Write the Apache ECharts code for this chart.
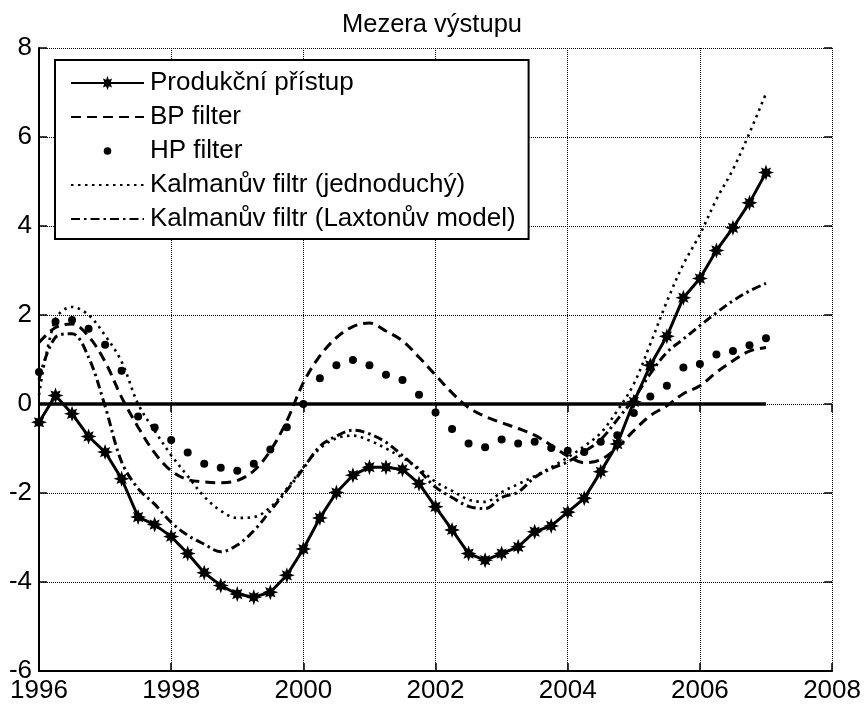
<!DOCTYPE html>
<html>
<head>
<meta charset="utf-8">
<script src="https://cdn.jsdelivr.net/npm/echarts@6/dist/echarts.min.js"></script>
<style>html,body{margin:0;padding:0;background:#fff}#c{width:864px;height:704px}</style>
</head>
<body>
<div id="c"></div>
<script>
const quarters = [1996.00,1996.25,1996.50,1996.75,1997.00,1997.25,1997.50,1997.75,1998.00,1998.25,1998.50,1998.75,
  1999.00,1999.25,1999.50,1999.75,2000.00,2000.25,2000.50,2000.75,2001.00,2001.25,2001.50,2001.75,
  2002.00,2002.25,2002.50,2002.75,2003.00,2003.25,2003.50,2003.75,2004.00,2004.25,2004.50,2004.75,
  2005.00,2005.25,2005.50,2005.75,2006.00,2006.25,2006.50,2006.75,2007.00];
const produkcni = [-0.41,0.19,-0.22,-0.73, -1.08,-1.68,-2.54,-2.71, -2.98,-3.36,-3.79,-4.08, -4.27,-4.34,-4.23,-3.85,
  -3.26,-2.56,-1.99,-1.60, -1.42,-1.42,-1.47,-1.79, -2.31,-2.83,-3.36,-3.51, -3.36,-3.21,-2.87,-2.74,
  -2.43,-2.12,-1.52,-0.90, 0.05,0.87,1.52,2.39, 2.82,3.45,3.96,4.52, 5.20];
const bpFilter = [1.38,1.72,1.80,1.52, 0.95,0.15,-0.52,-1.10, -1.50,-1.70,-1.75,-1.77, -1.72,-1.50,-1.05,-0.38,
  0.48,1.08,1.49,1.74, 1.82,1.64,1.42,1.05, 0.65,0.25,-0.08,-0.28, -0.42,-0.55,-0.70,-0.93,
  -1.17,-1.32,-1.25,-0.98, -0.60,-0.26,-0.04,0.23, 0.41,0.71,0.97,1.19, 1.27];
const hpFilter = [0.72,1.85,1.89,1.69, 1.33,0.75,-0.28,-0.53, -0.81,-1.09,-1.34,-1.43, -1.50,-1.34,-1.02,-0.52,
  0.00,0.58,0.87,0.99, 0.87,0.66,0.54,0.21, -0.19,-0.56,-0.89,-0.97, -0.80,-0.89,-0.85,-0.99,
  -1.05,-1.08,-0.85,-0.70, -0.20,0.17,0.41,0.82, 0.90,1.11,1.19,1.32, 1.48];
const kalmanSimple = [0.20,1.90,2.18,2.00, 1.54,0.95,0.00,-0.60, -1.15,-1.62,-2.08,-2.40, -2.56,-2.54,-2.32,-1.90,
  -1.42,-1.00,-0.77,-0.71, -0.82,-1.00,-1.21,-1.45, -1.75,-1.95,-2.15,-2.20, -1.98,-1.80,-1.62,-1.42,
  -1.20,-0.95,-0.65,-0.15, 0.45,1.35,2.30,3.14, 3.81,4.60,5.27,6.09, 6.98];
const kalmanLaxton = [0.55,1.50,1.58,1.05, -0.05,-1.30,-1.90,-2.25, -2.66,-2.95,-3.15,-3.32, -3.17,-2.85,-2.40,-1.94,
  -1.45,-0.95,-0.72,-0.59, -0.67,-0.86,-1.16,-1.49, -1.87,-2.10,-2.30,-2.35, -2.10,-1.98,-1.65,-1.45,
  -1.30,-1.07,-0.80,-0.35, 0.12,0.68,1.16,1.46, 1.76,2.05,2.32,2.54, 2.71];
const baselineLevel = 0;
const xTicks = [1996, 1998, 2000, 2002, 2004, 2006, 2008];
const yTicks = [-6, -4, -2, 0, 2, 4, 6, 8];
const names = ['Produkční přístup', 'BP filter', 'HP filter', 'Kalmanův filtr (jednoduchý)', 'Kalmanův filtr (Laxtonův model)'];
const titleText = 'Mezera výstupu';

const pairs = arr => quarters.map((q, i) => [q, arr[i]]);
const FONT = '"Liberation Sans", Arial, sans-serif';
// heavy 8-armed asterisk marker
const STAR = 'path://M20,10L14.6,11.9L16.4,16.4L11.9,14.6L10,20L8.1,14.6L3.6,16.4L5.4,11.9L0,10L5.4,8.1L3.6,3.6L8.1,5.4L10,0L11.9,5.4L16.4,3.6L14.6,8.1Z';
const DOT_ICON = 'path://M0,0M18,18M5.2,9a3.8,3.8 0 1,0 7.6,0a3.8,3.8 0 1,0 -7.6,0Z';

const gridLine = { show: true, lineStyle: { color: '#000', width: 1, type: [1, 1] } };

const chart = echarts.init(document.getElementById('c'), null, { renderer: 'canvas' });
chart.setOption({
  backgroundColor: '#fff',
  animation: false,
  title: {
    text: titleText, left: 'center', top: 7,
    textStyle: { fontFamily: FONT, fontSize: 25.5, fontWeight: 'normal', color: '#000' }
  },
  grid: { left: 39, right: 30, top: 48, bottom: 31 },
  xAxis: [{
    type: 'value', min: xTicks[0], max: xTicks[xTicks.length - 1], interval: 2,
    axisLine: { show: true, onZero: false, lineStyle: { color: '#000', width: 2 } },
    axisTick: { show: true, inside: true, length: 8, lineStyle: { color: '#000', width: 1.5 } },
    axisLabel: { color: '#000', fontFamily: FONT, fontSize: 26, margin: 7, formatter: v => String(v) },
    splitLine: gridLine
  }, {
    type: 'value', position: 'top', min: xTicks[0], max: xTicks[xTicks.length - 1], interval: 2,
    axisLine: { show: false }, axisLabel: { show: false }, splitLine: { show: false },
    axisTick: { show: true, inside: true, length: 8, lineStyle: { color: '#000', width: 1.5 } }
  }],
  yAxis: [{
    type: 'value', min: yTicks[0], max: yTicks[yTicks.length - 1], interval: 2,
    axisLine: { show: true, onZero: false, lineStyle: { color: '#000', width: 2 } },
    axisTick: { show: true, inside: true, length: 8, lineStyle: { color: '#000', width: 1.5 } },
    axisLabel: { color: '#000', fontFamily: FONT, fontSize: 26, margin: 7 },
    splitLine: gridLine
  }, {
    type: 'value', position: 'right', min: yTicks[0], max: yTicks[yTicks.length - 1], interval: 2,
    axisLine: { show: false }, axisLabel: { show: false }, splitLine: { show: false },
    axisTick: { show: true, inside: true, length: 8, lineStyle: { color: '#000', width: 1.5 } }
  }],
  legend: {
    orient: 'vertical', left: 55, top: 60,
    padding: [10, 13, 7, 15],
    itemWidth: 73, itemHeight: 18, itemGap: 8,
    backgroundColor: '#fff', borderColor: '#000', borderWidth: 2,
    selectedMode: false, z: 10,
    textStyle: { fontFamily: FONT, fontSize: 26, color: '#000', padding: [0, 0, 0, 1] },
    data: [
      { name: names[0] },
      { name: names[1], itemStyle: { opacity: 0 } },
      { name: names[2], icon: DOT_ICON, itemStyle: { opacity: 1 } },
      { name: names[3], itemStyle: { opacity: 0 } },
      { name: names[4], itemStyle: { opacity: 0 } }
    ]
  },
  series: [
    {
      name: 'baseline', type: 'line', silent: true, z: 1,
      data: [[quarters[0], baselineLevel], [quarters[quarters.length - 1], baselineLevel]],
      symbol: 'none', lineStyle: { color: '#000', width: 3.5, type: 'solid' }
    },
    {
      name: names[1], type: 'line', data: pairs(bpFilter), smooth: 0.35,
      symbol: 'none', color: '#000',
      lineStyle: { color: '#000', width: 3, type: [10, 6] }
    },
    {
      name: names[2], type: 'scatter', data: pairs(hpFilter),
      symbol: 'circle', symbolSize: 8, itemStyle: { color: '#000', opacity: 1 }
    },
    {
      name: names[3], type: 'line', data: pairs(kalmanSimple), smooth: 0.35,
      symbol: 'none', color: '#000',
      lineStyle: { color: '#000', width: 2.6, type: [2.5, 4.5] }
    },
    {
      name: names[4], type: 'line', data: pairs(kalmanLaxton), smooth: 0.35,
      symbol: 'none', color: '#000',
      lineStyle: { color: '#000', width: 3, type: [9, 4, 2.5, 4] }
    },
    {
      name: names[0], type: 'line', data: pairs(produkcni), z: 5,
      symbol: STAR, symbolSize: 16, showAllSymbol: true, color: '#000',
      itemStyle: { color: '#000' },
      lineStyle: { color: '#000', width: 3 }
    }
  ]
});
</script>
</body>
</html>
